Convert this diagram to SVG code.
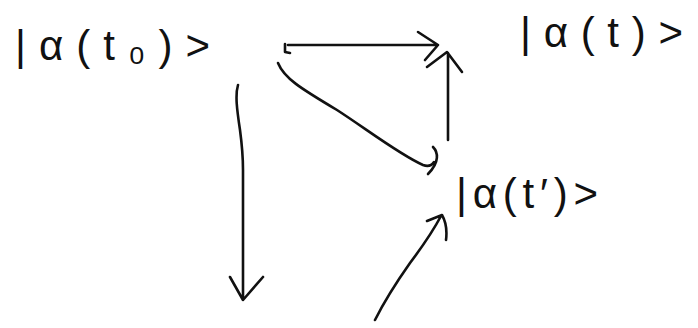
<svg xmlns="http://www.w3.org/2000/svg" width="698" height="328" viewBox="0 0 698 328">
<style>
.lbl{font-family:"Liberation Sans",Arial,sans-serif;font-size:42px;fill:#111}
.s{fill:none;stroke:#111;stroke-width:2.6;stroke-linecap:round;stroke-linejoin:round}
</style>
<rect width="698" height="328" fill="#fff"/>
<g id="n-alpha-t0"><text class="lbl" x="15" y="60" textLength="195" lengthAdjust="spacing">|α(t₀)&gt;</text></g>
<g id="n-alpha-t"><text class="lbl" x="520" y="47" textLength="163" lengthAdjust="spacing">|α(t)&gt;</text></g>
<g id="n-alpha-tp"><text class="lbl" x="456" y="208" textLength="142" lengthAdjust="spacing">|α(t′)&gt;</text></g>
<g id="connectors">
<path class="s" d="M285,44 L285,52 L290,53 M288,45 L438,45 M418,32 L438,45 L425,60"/>
<path class="s" d="M278,63 C284,78 300,88 337,110 C365,128 400,155 423,165 C428,167 432,165 434,162 M433,147 C438,152 440,162 428,174"/>
<path class="s" d="M448,140 L448,53 M427,67 L447,52 L462,72"/>
<path class="s" d="M238,85 C235,95 237,110 240,130 C242,145 243,160 243,170 L243,300 M230,277 L243,300 L263,277"/>
<path class="s" d="M375,320 C385,300 398,280 410,263 C422,247 432,233 441,216 M427,221 L442,215 C446,222 447,232 446,240"/>
</g>
</svg>
